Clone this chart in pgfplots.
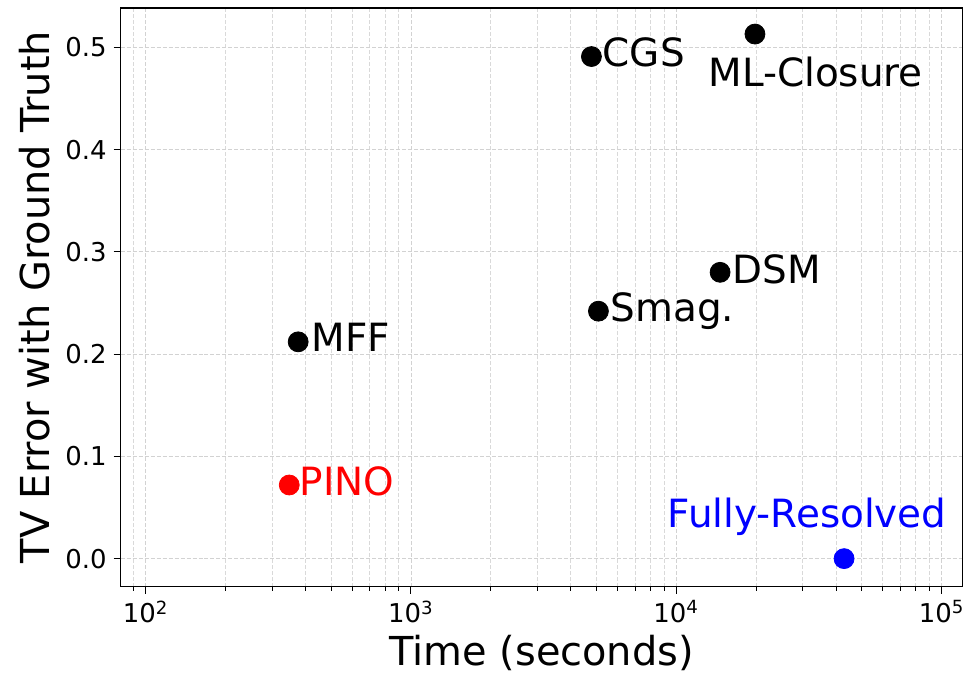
\documentclass[border=0pt]{standalone}
\usepackage{pgfplots}
\pgfplotsset{compat=1.18}
\usepackage{fontspec}
\setmainfont{DejaVu Sans}
\begin{document}
\begin{tikzpicture}
\begin{axis}[
  scale only axis, width=422pt, height=290pt,
  xmode=log, xmin=80.6, xmax=120000, ymin=-0.0273, ymax=0.5385,
  xtick={100,1000,10000,100000},
  xticklabels={10\textsuperscript{2},10\textsuperscript{3},10\textsuperscript{4},10\textsuperscript{5}},
  minor xtick={90,200,300,400,500,600,700,800,900,2000,3000,4000,5000,6000,7000,8000,9000,20000,30000,40000,50000,60000,70000,80000,90000},
  ytick={0,0.1,0.2,0.3,0.4,0.5},
  yticklabel style={/pgf/number format/.cd, fixed, fixed zerofill, precision=1},
  /pgf/number format/assume math mode=true,
  tick align=outside, tick pos=left,
  major tick length=3.5pt, minor tick length=2pt,
  every tick/.style={black, line width=0.5pt},
  ticklabel style={font=\fontsize{13}{15}\selectfont},
  grid=both,
  major grid style={dash pattern=on 2pt off 1pt, gray!35, line width=0.4pt},
  minor grid style={dash pattern=on 2pt off 1pt, gray!30, line width=0.4pt},
  axis line style={black, line width=0.6pt},
  xlabel={Time (seconds)},
  ylabel={TV Error with Ground Truth},
  every axis x label/.style={at={(axis description cs:0.5,0)}, anchor=base, yshift=-39.5pt, font=\fontsize{20}{24}\selectfont},
  every axis y label/.style={at={(axis description cs:-0.102,0.5)}, anchor=center, rotate=90, font=\fontsize{20}{24}\selectfont},
  clip=false,
]
\addplot[only marks, mark=*, mark size=5pt, black] coordinates {
  (4790,0.491) (19800,0.513) (14630,0.280) (5090,0.242) (376,0.212)
};
\addplot[only marks, mark=*, mark size=5pt, red, mark options={fill=red}] coordinates {(348,0.072)};
\addplot[only marks, mark=*, mark size=5pt, blue, mark options={fill=blue}] coordinates {(42900,0.0)};
\begin{scope}[every node/.style={inner sep=0pt, font=\fontsize{19.5}{23}\selectfont}]
\node[anchor=base west, xshift=5.5pt, yshift=-5pt] at (axis cs:4790,0.491) {CGS};
\node[anchor=base west, xshift=-23.5pt, yshift=-26.5pt] at (axis cs:19800,0.513) {ML-Closure};
\node[anchor=base west, xshift=6pt, yshift=-5.5pt] at (axis cs:14630,0.280) {DSM};
\node[anchor=base west, xshift=6pt, yshift=-5pt] at (axis cs:5090,0.242) {Smag.};
\node[anchor=base west, xshift=6.5pt, yshift=-5pt] at (axis cs:376,0.212) {MFF};
\node[anchor=base west, xshift=5pt, yshift=-5.5pt, text=red] at (axis cs:348,0.072) {PINO};
\node[anchor=base west, xshift=-88.5pt, yshift=15.5pt, text=blue] at (axis cs:42900,0.0) {Fully-Resolved};
\end{scope}
\end{axis}
\path ([xshift=-60.5pt, yshift=4pt]current axis.north west) rectangle ([xshift=3pt, yshift=-44.5pt]current axis.south east);
\end{tikzpicture}
\end{document}
